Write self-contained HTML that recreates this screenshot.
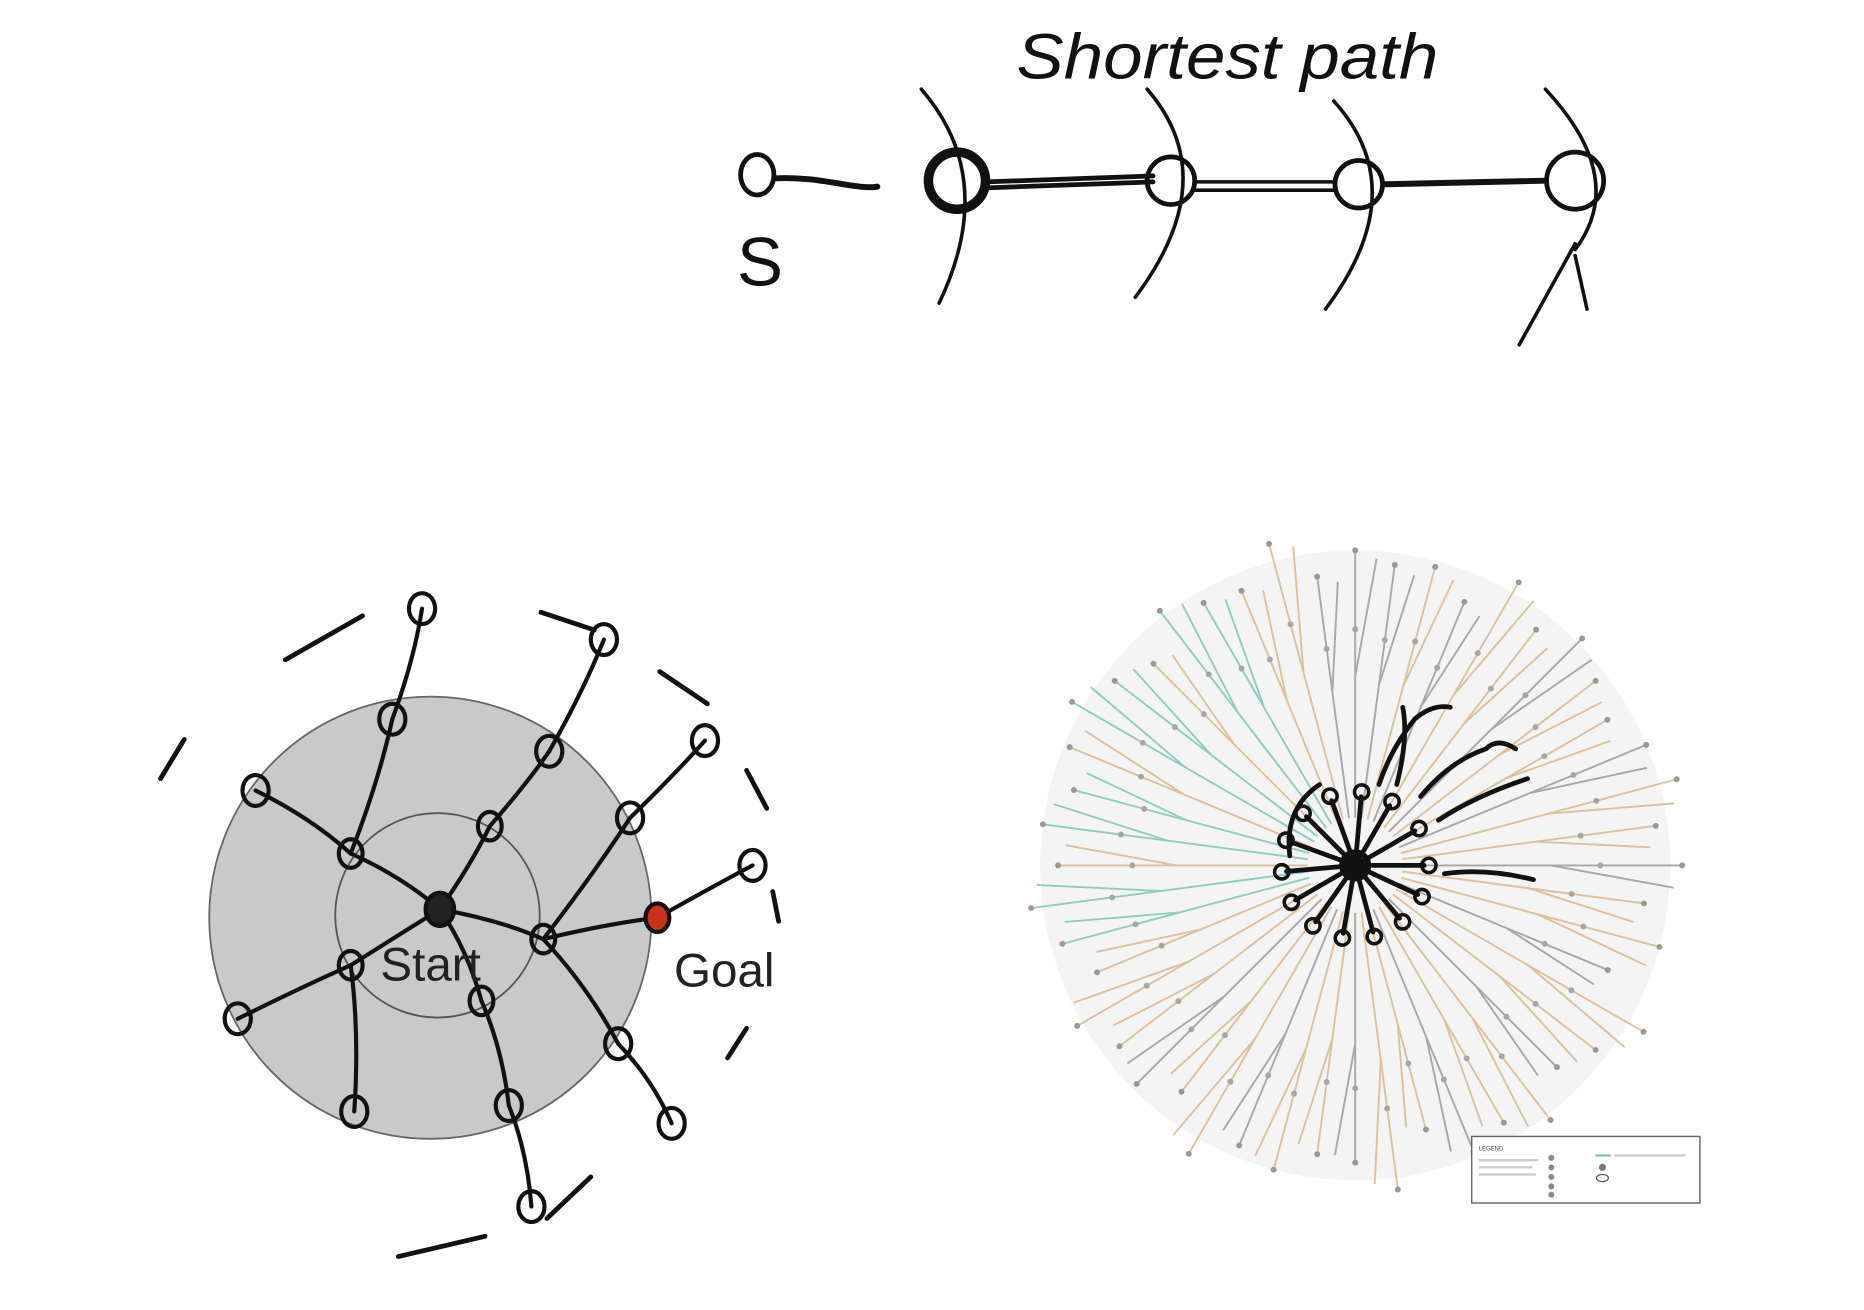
<!DOCTYPE html>
<html><head><meta charset="utf-8"><style>
html,body{margin:0;padding:0;background:#fff;}
svg{display:block}
</style></head><body>
<svg id="s" width="1864" height="1310" viewBox="0 0 1568 1102" xmlns="http://www.w3.org/2000/svg">
<rect width="1568" height="1102" fill="#fff"/>
<g fill="none" stroke="#111" stroke-linecap="round">
<text x="855" y="66" font-family="Liberation Sans, sans-serif" font-size="54" fill="#111" stroke="none" font-style="italic" textLength="355" lengthAdjust="spacingAndGlyphs">Shortest path</text>
<path d="M652,150 C690,148 720,160 738,157" stroke-width="5"/>
<path d="M830,153 L970,148 M830,158 L970,153" stroke-width="4"/>
<path d="M1005,153 L1122,153 M1005,160 L1122,160" stroke-width="3"/>
<path d="M1165,155 L1300,152" stroke-width="5"/>
<ellipse cx="637" cy="147" rx="14" ry="17" stroke-width="4"/>
<circle cx="805" cy="152" r="24" stroke-width="8"/>
<circle cx="985" cy="152" r="20" stroke-width="4"/>
<circle cx="1143" cy="155" r="20" stroke-width="4"/>
<circle cx="1325" cy="152" r="24" stroke-width="4"/>
<path d="M775,75 Q840,150 790,255" stroke-width="3"/>
<path d="M965,75 Q1030,150 955,250" stroke-width="3"/>
<path d="M1122,85 Q1190,160 1115,260" stroke-width="3"/>
<path d="M1300,75 Q1370,150 1325,210 M1325,205 L1278,290 M1325,215 L1335,260" stroke-width="3"/>
<text x="620" y="240" font-family="Liberation Sans, sans-serif" font-size="58" fill="#111" stroke="none">S</text>
</g>
<g>
<circle cx="362" cy="772" r="186" fill="#c9c9c9" stroke="#666" stroke-width="1.5"/>
<circle cx="368" cy="770" r="86" fill="#c9c9c9" stroke="#555" stroke-width="1.5"/>
<g id="dashes" stroke="#111" stroke-width="4" fill="none" stroke-linecap="round"></g>
<g id="edges" stroke="#111" stroke-width="3.5" fill="none" stroke-linecap="round"></g>
<g id="nodes"></g>
<text x="320" y="825" font-family="Liberation Sans, sans-serif" font-size="40" fill="#222">Start</text>
<text x="567" y="830" font-family="Liberation Sans, sans-serif" font-size="40" fill="#222">Goal</text>
</g>
<g>
<circle cx="1140" cy="728" r="265" fill="#f4f4f4"/>
<g id="tree" fill="none" stroke-width="1.6" opacity="0.85"></g>
<g id="overlay" stroke="#111" stroke-width="4" fill="none" stroke-linecap="round"></g>
<g>
<rect x="1238" y="956" width="192" height="56" fill="#fff" stroke="#666" stroke-width="1.2"/>
<text x="1244" y="968" font-family="Liberation Sans, sans-serif" font-size="5" fill="#444">LEGEND</text>
<rect x="1244" y="975" width="50" height="2" fill="#ccc"/><rect x="1244" y="981" width="45" height="2" fill="#ccc"/><rect x="1244" y="987" width="48" height="2" fill="#ccc"/>
<circle cx="1305" cy="974" r="2.5" fill="#888"/><circle cx="1305" cy="982" r="2.5" fill="#888"/><circle cx="1305" cy="990" r="2.5" fill="#888"/><circle cx="1305" cy="998" r="2.5" fill="#888"/><circle cx="1305" cy="1005" r="2.5" fill="#888"/>
<line x1="1342" y1="972" x2="1355" y2="972" stroke="#7cc7b8" stroke-width="2"/><rect x="1358" y="971" width="60" height="2" fill="#ccc"/>
<circle cx="1348" cy="982" r="3" fill="#777"/><ellipse cx="1348" cy="991" rx="5" ry="3" fill="none" stroke="#555"/>
</g>
</g>
</svg>
<script>
var NS='http://www.w3.org/2000/svg';
function mk(tag,attrs,parent){var e=document.createElementNS(NS,tag);for(var k in attrs)e.setAttribute(k,attrs[k]);parent.appendChild(e);return e;}
var nodeX=[370,295,412,457,295,405,330,462,530,520,215,200,298,428,355,508,593,633,565,447,553];
var nodeY=[765,718,695,790,812,842,605,632,688,878,665,857,935,930,512,538,623,728,945,1015,772];
var edgeFrom=[0,0,0,0,0,1,1,6,2,7,3,8,3,20,3,9,4,4,5,13];
var edgeTo=[1,2,3,4,5,10,6,14,7,15,8,16,20,17,9,18,11,12,13,19];
var dashes=[[240,555,305,518],[135,655,155,622],[455,515,500,530],[555,565,595,592],[628,648,645,680],[650,750,655,775],[612,890,628,865],[460,1025,497,990],[335,1057,408,1040]];
var dg=document.getElementById('dashes');
dashes.forEach(function(d){var e=mk('line',{x1:d[0],y1:d[1],x2:d[2],y2:d[3]},dg);

});
var eg=document.getElementById('edges');
for(var i=0;i<edgeFrom.length;i++){var a=edgeFrom[i],b=edgeTo[i];
var mx=(nodeX[a]+nodeX[b])/2+6,my=(nodeY[a]+nodeY[b])/2-4;
var e=mk('path',{d:'M'+nodeX[a]+','+nodeY[a]+' Q'+mx+','+my+' '+nodeX[b]+','+nodeY[b]},eg);

}
var ng=document.getElementById('nodes');
for(var i=0;i<nodeX.length;i++){
var fill=i===0?'#222':(i===20?'#c8331a':'none');
var r=i===0?14:(i<6||i===20?12:13);
var c=mk('ellipse',{cx:nodeX[i],cy:nodeY[i],rx:r-2,ry:r,fill:fill,stroke:'#111','stroke-width':3.5},ng);

}
var branchAngles=[];for(var k=0;k<48;k++)branchAngles.push(k*7.5);
var branchLen=[275,245,265,230,280,255,240,270,250,260,230,275,250,245,265,255,280,240,260,250,270,235,255,275,250,265,245,260,275,255,240,270,255,250,280,245,265,255,260,240,275,250,270,255,245,265,280,255];
var tg=document.getElementById('tree');
var cx=1140,cy=728;
for(var k=0;k<branchAngles.length;k++){
var a=branchAngles[k]*Math.PI/180, L=branchLen[k];
var deg=branchAngles[k];
var col=(deg>150&&deg<250)?(k%3===0?'#d9b88a':'#7cc7b8'):(k%3===0?'#9a9a9a':'#d9b88a');
if(deg>250&&deg<300&&k%2)col='#9a9a9a';
var x2=cx+Math.cos(a)*L,y2=cy+Math.sin(a)*L;
var p=mk('line',{x1:cx+Math.cos(a)*40,y1:cy+Math.sin(a)*40,x2:x2,y2:y2,stroke:col},tg);


var fx=cx+Math.cos(a)*L*0.6,fy=cy+Math.sin(a)*L*0.6;
var b=a+0.18;
var q=mk('line',{x1:fx,y1:fy,x2:fx+Math.cos(b)*L*0.38,y2:fy+Math.sin(b)*L*0.38,stroke:col},tg);


var d=mk('circle',{cx:x2,cy:y2,r:2.5,fill:'#888',stroke:'none'},tg);


var d2=mk('circle',{cx:cx+Math.cos(a)*L*0.75,cy:cy+Math.sin(a)*L*0.75,r:2.5,fill:'#999',stroke:'none'},tg);

}
var og=document.getElementById('overlay');
var spokeAngles=[0,25,50,75,100,125,150,175,200,225,250,275,300,330];
for(var k=0;k<spokeAngles.length;k++){var a=spokeAngles[k]*Math.PI/180;
var s=mk('line',{x1:cx,y1:cy,x2:cx+Math.cos(a)*58,y2:cy+Math.sin(a)*58},og);


var n=mk('circle',{cx:cx+Math.cos(a)*62,cy:cy+Math.sin(a)*62,r:6,'stroke-width':3},og);

}
var ctr=mk('circle',{cx:cx,cy:cy,r:11,'stroke-width':5},og);


var sq=mk('path',{d:'M1175,660 Q1185,620 1180,595 M1195,670 Q1220,640 1250,630 Q1260,620 1275,630 M1210,690 Q1240,670 1285,655 M1215,735 Q1250,730 1290,740 M1160,660 Q1170,630 1190,605 Q1205,592 1220,595 M1085,720 Q1080,680 1110,660'},og);


</script>
</body></html>
